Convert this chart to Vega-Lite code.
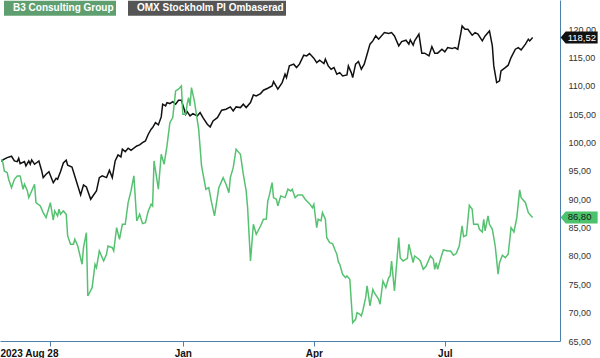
{
"$schema":"https://vega.github.io/schema/vega-lite/v6.json",
"width":560,"height":341,
"autosize":{"type":"none"},
"padding":{"left":0,"top":0,"right":40,"bottom":17},
"config":{"view":{"stroke":null},"font":"Liberation Sans"},
"datasets":{
"omx":[
{"date":"2023-08-28","value":96.64},{"date":"2023-08-29","value":96.94},{"date":"2023-09-01","value":97.35},{"date":"2023-09-04","value":97.59},{"date":"2023-09-06","value":96.76},{"date":"2023-09-08","value":96.64},{"date":"2023-09-09","value":97.24},{"date":"2023-09-10","value":96.29},{"date":"2023-09-13","value":96.64},{"date":"2023-09-14","value":95.88},{"date":"2023-09-16","value":96.76},{"date":"2023-09-17","value":96.18},{"date":"2023-09-18","value":96.94},{"date":"2023-09-20","value":96.18},{"date":"2023-09-23","value":96.76},{"date":"2023-09-25","value":95.0},{"date":"2023-09-26","value":93.82},{"date":"2023-09-28","value":94.42},{"date":"2023-09-30","value":94.87},{"date":"2023-10-03","value":92.93},{"date":"2023-10-05","value":93.71},{"date":"2023-10-06","value":93.53},{"date":"2023-10-08","value":94.87},{"date":"2023-10-10","value":96.41},{"date":"2023-10-12","value":96.89},{"date":"2023-10-13","value":96.0},{"date":"2023-10-16","value":95.7},{"date":"2023-10-19","value":93.23},{"date":"2023-10-22","value":90.76},{"date":"2023-10-24","value":92.53},{"date":"2023-10-26","value":92.17},{"date":"2023-10-29","value":90.0},{"date":"2023-10-31","value":90.76},{"date":"2023-11-02","value":91.47},{"date":"2023-11-04","value":93.82},{"date":"2023-11-06","value":94.12},{"date":"2023-11-09","value":93.82},{"date":"2023-11-11","value":95.12},{"date":"2023-11-13","value":93.82},{"date":"2023-11-15","value":96.76},{"date":"2023-11-17","value":97.82},{"date":"2023-11-19","value":97.47},{"date":"2023-11-20","value":98.83},{"date":"2023-11-22","value":98.4},{"date":"2023-11-24","value":99.0},{"date":"2023-11-26","value":98.65},{"date":"2023-11-30","value":99.41},{"date":"2023-12-02","value":99.59},{"date":"2023-12-04","value":99.99},{"date":"2023-12-06","value":100.29},{"date":"2023-12-08","value":101.47},{"date":"2023-12-10","value":102.36},{"date":"2023-12-11","value":102.64},{"date":"2023-12-13","value":103.52},{"date":"2023-12-15","value":103.12},{"date":"2023-12-17","value":104.53},{"date":"2023-12-18","value":106.77},{"date":"2023-12-20","value":106.47},{"date":"2023-12-21","value":107.05},{"date":"2023-12-23","value":106.88},{"date":"2023-12-25","value":107.23},{"date":"2023-12-27","value":106.77},{"date":"2023-12-29","value":107.47},{"date":"2023-12-31","value":107.47},{"date":"2024-01-03","value":105.0},{"date":"2024-01-04","value":105.46},{"date":"2024-01-06","value":104.7},{"date":"2024-01-08","value":105.11},{"date":"2024-01-11","value":104.7},{"date":"2024-01-13","value":105.29},{"date":"2024-01-15","value":104.4},{"date":"2024-01-18","value":103.24},{"date":"2024-01-20","value":102.76},{"date":"2024-01-22","value":103.82},{"date":"2024-01-25","value":104.4},{"date":"2024-01-28","value":105.71},{"date":"2024-01-31","value":105.89},{"date":"2024-02-03","value":106.29},{"date":"2024-02-05","value":105.59},{"date":"2024-02-07","value":106.29},{"date":"2024-02-10","value":106.17},{"date":"2024-02-12","value":106.77},{"date":"2024-02-14","value":106.17},{"date":"2024-02-17","value":107.05},{"date":"2024-02-19","value":108.41},{"date":"2024-02-21","value":108.23},{"date":"2024-02-24","value":108.64},{"date":"2024-02-26","value":109.24},{"date":"2024-02-29","value":109.59},{"date":"2024-03-03","value":110.0},{"date":"2024-03-04","value":110.76},{"date":"2024-03-07","value":109.42},{"date":"2024-03-10","value":110.58},{"date":"2024-03-12","value":112.06},{"date":"2024-03-13","value":111.46},{"date":"2024-03-15","value":113.53},{"date":"2024-03-18","value":113.83},{"date":"2024-03-20","value":113.23},{"date":"2024-03-22","value":113.83},{"date":"2024-03-25","value":115.41},{"date":"2024-03-27","value":115.29},{"date":"2024-03-29","value":115.7},{"date":"2024-04-01","value":114.89},{"date":"2024-04-03","value":114.11},{"date":"2024-04-05","value":114.53},{"date":"2024-04-08","value":113.93},{"date":"2024-04-09","value":114.71},{"date":"2024-04-11","value":113.53},{"date":"2024-04-13","value":112.94},{"date":"2024-04-15","value":113.23},{"date":"2024-04-17","value":112.06},{"date":"2024-04-19","value":112.34},{"date":"2024-04-21","value":111.76},{"date":"2024-04-24","value":111.94},{"date":"2024-04-25","value":113.53},{"date":"2024-04-27","value":112.34},{"date":"2024-04-28","value":111.46},{"date":"2024-04-30","value":113.83},{"date":"2024-05-02","value":114.29},{"date":"2024-05-04","value":112.94},{"date":"2024-05-06","value":113.83},{"date":"2024-05-08","value":115.59},{"date":"2024-05-10","value":117.36},{"date":"2024-05-12","value":117.94},{"date":"2024-05-14","value":118.82},{"date":"2024-05-16","value":118.24},{"date":"2024-05-20","value":119.4},{"date":"2024-05-23","value":119.23},{"date":"2024-05-25","value":119.4},{"date":"2024-05-27","value":118.82},{"date":"2024-05-30","value":117.06},{"date":"2024-06-01","value":117.82},{"date":"2024-06-04","value":118.06},{"date":"2024-06-06","value":117.36},{"date":"2024-06-07","value":118.11},{"date":"2024-06-09","value":117.18},{"date":"2024-06-10","value":117.94},{"date":"2024-06-13","value":119.12},{"date":"2024-06-15","value":115.77},{"date":"2024-06-17","value":115.77},{"date":"2024-06-20","value":115.29},{"date":"2024-06-22","value":116.93},{"date":"2024-06-24","value":115.77},{"date":"2024-06-26","value":115.77},{"date":"2024-06-29","value":116.47},{"date":"2024-07-01","value":116.0},{"date":"2024-07-03","value":116.76},{"date":"2024-07-06","value":116.58},{"date":"2024-07-08","value":116.76},{"date":"2024-07-10","value":116.47},{"date":"2024-07-12","value":119.12},{"date":"2024-07-13","value":120.58},{"date":"2024-07-15","value":120.0},{"date":"2024-07-17","value":120.0},{"date":"2024-07-20","value":118.94},{"date":"2024-07-22","value":119.4},{"date":"2024-07-24","value":119.12},{"date":"2024-07-27","value":117.94},{"date":"2024-07-29","value":118.82},{"date":"2024-08-01","value":119.7},{"date":"2024-08-03","value":117.06},{"date":"2024-08-04","value":113.53},{"date":"2024-08-06","value":110.58},{"date":"2024-08-08","value":110.88},{"date":"2024-08-09","value":112.64},{"date":"2024-08-12","value":113.23},{"date":"2024-08-14","value":113.65},{"date":"2024-08-16","value":115.0},{"date":"2024-08-19","value":116.47},{"date":"2024-08-21","value":116.76},{"date":"2024-08-23","value":116.35},{"date":"2024-08-26","value":117.36},{"date":"2024-08-28","value":118.24},{"date":"2024-08-29","value":117.94},{"date":"2024-08-31","value":118.52}
],
"b3":[
{"date":"2023-08-28","value":97.06},{"date":"2023-08-29","value":96.46},{"date":"2023-08-30","value":95.0},{"date":"2023-09-01","value":94.7},{"date":"2023-09-02","value":93.53},{"date":"2023-09-04","value":92.05},{"date":"2023-09-06","value":93.53},{"date":"2023-09-08","value":94.12},{"date":"2023-09-10","value":94.12},{"date":"2023-09-12","value":91.77},{"date":"2023-09-13","value":92.65},{"date":"2023-09-15","value":91.47},{"date":"2023-09-16","value":90.29},{"date":"2023-09-18","value":91.47},{"date":"2023-09-20","value":92.65},{"date":"2023-09-21","value":89.4},{"date":"2023-09-24","value":88.82},{"date":"2023-09-26","value":87.64},{"date":"2023-09-28","value":86.76},{"date":"2023-10-01","value":89.4},{"date":"2023-10-03","value":86.3},{"date":"2023-10-04","value":87.94},{"date":"2023-10-06","value":87.06},{"date":"2023-10-07","value":88.24},{"date":"2023-10-08","value":87.36},{"date":"2023-10-10","value":87.94},{"date":"2023-10-12","value":87.36},{"date":"2023-10-13","value":83.53},{"date":"2023-10-15","value":82.06},{"date":"2023-10-17","value":82.06},{"date":"2023-10-18","value":82.95},{"date":"2023-10-20","value":81.76},{"date":"2023-10-23","value":78.53},{"date":"2023-10-24","value":81.46},{"date":"2023-10-26","value":84.11},{"date":"2023-10-27","value":72.94},{"date":"2023-10-30","value":74.41},{"date":"2023-11-01","value":78.53},{"date":"2023-11-02","value":77.93},{"date":"2023-11-04","value":80.88},{"date":"2023-11-06","value":79.7},{"date":"2023-11-07","value":79.12},{"date":"2023-11-09","value":80.3},{"date":"2023-11-10","value":81.76},{"date":"2023-11-13","value":81.46},{"date":"2023-11-14","value":80.88},{"date":"2023-11-16","value":85.0},{"date":"2023-11-18","value":82.95},{"date":"2023-11-20","value":85.59},{"date":"2023-11-22","value":85.59},{"date":"2023-11-24","value":89.4},{"date":"2023-11-26","value":91.47},{"date":"2023-11-28","value":94.12},{"date":"2023-11-30","value":86.18},{"date":"2023-12-02","value":87.36},{"date":"2023-12-04","value":85.7},{"date":"2023-12-06","value":85.88},{"date":"2023-12-08","value":87.94},{"date":"2023-12-10","value":89.12},{"date":"2023-12-11","value":88.82},{"date":"2023-12-12","value":96.76},{"date":"2023-12-15","value":91.77},{"date":"2023-12-17","value":97.94},{"date":"2023-12-19","value":96.18},{"date":"2023-12-21","value":99.41},{"date":"2023-12-23","value":103.52},{"date":"2023-12-25","value":104.4},{"date":"2023-12-27","value":109.12},{"date":"2023-12-29","value":109.42},{"date":"2023-12-31","value":110.0},{"date":"2024-01-01","value":105.0},{"date":"2024-01-03","value":105.0},{"date":"2024-01-04","value":106.77},{"date":"2024-01-05","value":107.93},{"date":"2024-01-06","value":106.47},{"date":"2024-01-07","value":109.7},{"date":"2024-01-09","value":107.35},{"date":"2024-01-12","value":102.36},{"date":"2024-01-14","value":95.88},{"date":"2024-01-17","value":91.77},{"date":"2024-01-19","value":92.05},{"date":"2024-01-21","value":89.4},{"date":"2024-01-23","value":87.06},{"date":"2024-01-26","value":92.05},{"date":"2024-01-29","value":93.82},{"date":"2024-01-31","value":92.65},{"date":"2024-02-02","value":91.17},{"date":"2024-02-03","value":93.82},{"date":"2024-02-05","value":95.58},{"date":"2024-02-07","value":98.83},{"date":"2024-02-09","value":98.23},{"date":"2024-02-10","value":97.94},{"date":"2024-02-12","value":94.42},{"date":"2024-02-14","value":91.47},{"date":"2024-02-15","value":88.52},{"date":"2024-02-17","value":79.12},{"date":"2024-02-19","value":85.59},{"date":"2024-02-21","value":83.83},{"date":"2024-02-24","value":85.29},{"date":"2024-02-26","value":86.48},{"date":"2024-02-28","value":86.5},{"date":"2024-02-29","value":89.7},{"date":"2024-03-01","value":90.59},{"date":"2024-03-03","value":92.93},{"date":"2024-03-04","value":90.29},{"date":"2024-03-06","value":90.0},{"date":"2024-03-07","value":88.82},{"date":"2024-03-09","value":90.59},{"date":"2024-03-12","value":90.29},{"date":"2024-03-14","value":91.77},{"date":"2024-03-16","value":91.47},{"date":"2024-03-17","value":91.77},{"date":"2024-03-19","value":90.29},{"date":"2024-03-21","value":90.76},{"date":"2024-03-24","value":90.76},{"date":"2024-03-26","value":90.0},{"date":"2024-03-29","value":89.23},{"date":"2024-03-31","value":88.52},{"date":"2024-04-01","value":89.12},{"date":"2024-04-03","value":85.0},{"date":"2024-04-04","value":86.48},{"date":"2024-04-06","value":86.18},{"date":"2024-04-07","value":87.64},{"date":"2024-04-09","value":86.48},{"date":"2024-04-10","value":83.23},{"date":"2024-04-12","value":82.35},{"date":"2024-04-14","value":82.17},{"date":"2024-04-16","value":80.88},{"date":"2024-04-17","value":80.3},{"date":"2024-04-18","value":78.99},{"date":"2024-04-19","value":78.53},{"date":"2024-04-21","value":76.77},{"date":"2024-04-23","value":76.17},{"date":"2024-04-24","value":76.47},{"date":"2024-04-26","value":75.89},{"date":"2024-04-28","value":68.23},{"date":"2024-04-30","value":68.83},{"date":"2024-05-01","value":69.99},{"date":"2024-05-03","value":69.71},{"date":"2024-05-04","value":69.41},{"date":"2024-05-05","value":70.29},{"date":"2024-05-07","value":72.64},{"date":"2024-05-08","value":74.71},{"date":"2024-05-10","value":71.18},{"date":"2024-05-12","value":74.12},{"date":"2024-05-13","value":73.52},{"date":"2024-05-16","value":72.36},{"date":"2024-05-17","value":71.48},{"date":"2024-05-19","value":75.59},{"date":"2024-05-21","value":74.41},{"date":"2024-05-23","value":76.17},{"date":"2024-05-24","value":76.47},{"date":"2024-05-25","value":79.12},{"date":"2024-05-27","value":73.82},{"date":"2024-05-30","value":83.23},{"date":"2024-05-31","value":79.7},{"date":"2024-06-02","value":79.12},{"date":"2024-06-05","value":79.59},{"date":"2024-06-06","value":82.06},{"date":"2024-06-09","value":78.82},{"date":"2024-06-10","value":80.0},{"date":"2024-06-13","value":79.42},{"date":"2024-06-14","value":79.12},{"date":"2024-06-16","value":77.65},{"date":"2024-06-18","value":78.23},{"date":"2024-06-21","value":80.0},{"date":"2024-06-23","value":79.42},{"date":"2024-06-24","value":77.65},{"date":"2024-06-25","value":78.82},{"date":"2024-06-26","value":77.65},{"date":"2024-06-29","value":80.3},{"date":"2024-06-30","value":81.06},{"date":"2024-07-03","value":80.88},{"date":"2024-07-05","value":80.88},{"date":"2024-07-07","value":80.12},{"date":"2024-07-09","value":80.48},{"date":"2024-07-11","value":81.76},{"date":"2024-07-13","value":85.29},{"date":"2024-07-14","value":83.4},{"date":"2024-07-16","value":83.65},{"date":"2024-07-18","value":88.95},{"date":"2024-07-20","value":88.24},{"date":"2024-07-21","value":85.59},{"date":"2024-07-24","value":85.59},{"date":"2024-07-25","value":84.71},{"date":"2024-07-27","value":84.23},{"date":"2024-07-28","value":86.48},{"date":"2024-07-29","value":84.41},{"date":"2024-07-31","value":87.06},{"date":"2024-08-01","value":85.59},{"date":"2024-08-03","value":84.71},{"date":"2024-08-05","value":81.76},{"date":"2024-08-07","value":76.77},{"date":"2024-08-08","value":78.82},{"date":"2024-08-10","value":80.12},{"date":"2024-08-12","value":79.7},{"date":"2024-08-14","value":80.3},{"date":"2024-08-16","value":85.0},{"date":"2024-08-18","value":84.23},{"date":"2024-08-20","value":86.76},{"date":"2024-08-22","value":91.65},{"date":"2024-08-23","value":90.29},{"date":"2024-08-26","value":89.4},{"date":"2024-08-28","value":87.64},{"date":"2024-08-30","value":87.06},{"date":"2024-08-31","value":86.8}
]
},
"layer":[
{"data":{"name":"omx"},
 "mark":{"type":"line","strokeWidth":1.5},
 "encoding":{
  "x":{"field":"date","type":"temporal",
   "scale":{"type":"utc","domain":[{"year":2023,"month":8,"date":27,"utc":true},{"year":2024,"month":9,"date":19,"utc":true}]},
   "axis":{"title":null,"grid":false,"tickCount":20,
     "values":[{"year":2023,"month":8,"date":27,"utc":true},{"year":2023,"month":10,"date":1,"utc":true},{"year":2024,"month":1,"date":1,"utc":true},{"year":2024,"month":4,"date":1,"utc":true},{"year":2024,"month":7,"date":1,"utc":true}],
     "labelExpr":"utcmonth(datum.value) == 7 ? '2023 Aug 28' : (utcmonth(datum.value) == 9 ? '' : utcFormat(datum.value, '%b'))",
     "labelAlign":{"condition":{"test":"utcmonth(datum.value) == 7","value":"left"},"value":"center"},
     "tickOpacity":{"condition":{"test":"utcmonth(datum.value) == 7","value":0},"value":1},
     "labelOverlap":false,"labelFontWeight":"bold","labelFontSize":10,"labelColor":"#111111","labelPadding":2,
     "domainColor":"#4a80aa","tickColor":"#4a80aa","tickSize":5}},
  "y":{"field":"value","type":"quantitative",
   "scale":{"domain":[65,125.15],"nice":false,"zero":false},
   "axis":{"orient":"right","title":null,"grid":false,"ticks":false,"tickSize":0,"labelOverlap":false,"tickCount":30,
     "values":[65,70,75,80,85,90,95,100,105,110,115,120],
     "labelExpr":"replace(format(datum.value, '.2f'), '.', ',')",
     "labelFontSize":9,"labelColor":"#333333","labelPadding":8,"domainColor":"#4a80aa"}},
  "color":{"datum":"OMX Stockholm PI Ombaserad",
   "scale":{"domain":["B3 Consulting Group","OMX Stockholm PI Ombaserad"],"range":["#56c271","#111111"]},
   "legend":{"title":null,"orient":"none","legendX":0,"legendY":3,"direction":"horizontal",
     "symbolSize":4,"symbolStrokeWidth":0,"labelOffset":3,"columnPadding":8,"padding":0,
     "labelColor":"#ffffff","labelFontWeight":"bold","labelFontSize":10,"labelFont":"Liberation Sans",
     "encode":{"symbols":{"update":{
       "shape":{"signal":"datum.value == 'B3 Consulting Group' ? 'M-1,-7.5H111V7.5H-1Z' : 'M-1,-7.5H157V7.5H-1Z'"},
       "fill":{"signal":"datum.value == 'B3 Consulting Group' ? '#5f9f6f' : '#555555'"},
       "strokeWidth":{"value":0},
       "opacity":{"value":1},
       "fillOpacity":{"value":1}}}}}
  }
 }},
{"data":{"name":"b3"},
 "mark":{"type":"line","strokeWidth":1.5},
 "encoding":{
  "x":{"field":"date","type":"temporal"},
  "y":{"field":"value","type":"quantitative"},
  "color":{"datum":"B3 Consulting Group"}}},
{"data":{"name":"omx"},
 "transform":[{"filter":"datum.value == 118.52"},{"calculate":"replace(format(datum.value, '.2f'), '.', ',')","as":"label"}],
 "layer":[
  {"mark":{"type":"point","filled":true,"size":4,"shape":"M28,0L33,-6H65V6H33Z","color":"#111111","opacity":1},
   "encoding":{"x":{"field":"date","type":"temporal"},"y":{"field":"value","type":"quantitative"}}},
  {"mark":{"type":"text","dx":35,"align":"left","baseline":"middle","fontSize":9.5,"color":"#ffffff"},
   "encoding":{"x":{"field":"date","type":"temporal"},"y":{"field":"value","type":"quantitative"},"text":{"field":"label","type":"nominal"}}}
 ]},
{"data":{"name":"b3"},
 "transform":[{"filter":"datum.value == 86.8"},{"calculate":"replace(format(datum.value, '.2f'), '.', ',')","as":"label"}],
 "layer":[
  {"mark":{"type":"point","filled":true,"size":4,"shape":"M28,0L33,-6H65V6H33Z","color":"#4cc26c","opacity":1},
   "encoding":{"x":{"field":"date","type":"temporal"},"y":{"field":"value","type":"quantitative"}}},
  {"mark":{"type":"text","dx":35,"align":"left","baseline":"middle","fontSize":9.5,"color":"#1a1a1a"},
   "encoding":{"x":{"field":"date","type":"temporal"},"y":{"field":"value","type":"quantitative"},"text":{"field":"label","type":"nominal"}}}
 ]}
]
}
